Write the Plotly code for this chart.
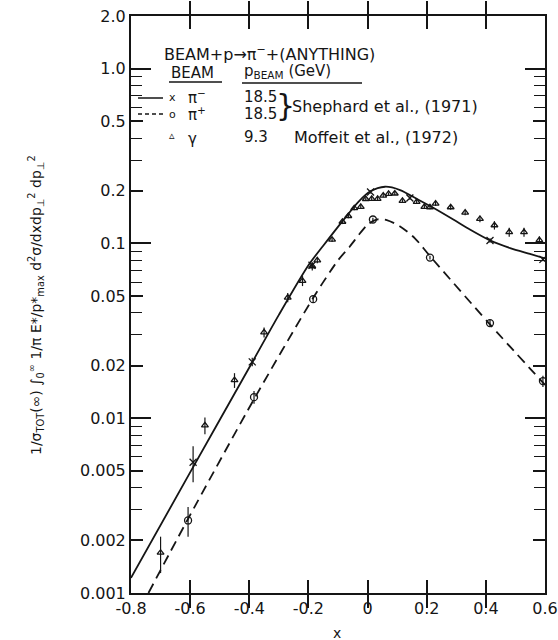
import plotly.graph_objects as go

# ---------------- data ----------------
# pi- beam (Shephard et al. 1971), crosses
pim_x = [-0.59, -0.39, -0.188, 0.01, 0.143, 0.414, 0.593]
pim_y = [0.0056, 0.021, 0.075, 0.197, 0.182, 0.104, 0.081]
pim_err = [0.0013, 0.0012, 0.002, 0.004, 0.004, 0.003, 0.002]

# pi+ beam (Shephard et al. 1971), open circles
pip_x = [-0.607, -0.384, -0.184, 0.018, 0.211, 0.414, 0.593]
pip_y = [0.0026, 0.0132, 0.048, 0.137, 0.083, 0.035, 0.0163]
pip_err = [0.0005, 0.0011, 0.002, 0.003, 0.002, 0.0015, 0.0012]

# gamma beam (Moffeit et al. 1972), triangles
gam_x = [-0.70, -0.55, -0.45, -0.35, -0.27, -0.22, -0.187, -0.17, -0.12, -0.085,
         -0.065, -0.045, -0.023, -0.006, 0.014, 0.034, 0.053, 0.071, 0.092, 0.118,
         0.166, 0.192, 0.211, 0.230, 0.281, 0.330, 0.380, 0.429, 0.479, 0.529, 0.581]
gam_y = [0.0017, 0.0091, 0.0165, 0.031, 0.049, 0.061, 0.074, 0.080, 0.105, 0.133,
         0.1435, 0.159, 0.162, 0.1795, 0.180, 0.180, 0.1875, 0.192, 0.193, 0.175,
         0.173, 0.162, 0.161, 0.169, 0.161, 0.150, 0.138, 0.127, 0.116, 0.116, 0.1045]
gam_err = [0.0004, 0.001, 0.0016, 0.002, 0.003, 0.004, 0.004, 0.003, 0.003, 0.004,
           0.004, 0.004, 0.004, 0.004, 0.004, 0.004, 0.004, 0.004, 0.004, 0.004,
           0.004, 0.004, 0.004, 0.005, 0.005, 0.005, 0.006, 0.007, 0.007, 0.007, 0.005]

# fitted curves
solid_x = [-0.8, -0.6, -0.4, -0.3, -0.2, -0.15, -0.082, -0.031, 0.008, 0.059, 0.11,
           0.166, 0.222, 0.29, 0.346, 0.414, 0.482, 0.549, 0.6]
solid_y = [0.00122, 0.0049, 0.0195, 0.039, 0.075, 0.097, 0.136, 0.173, 0.198, 0.211, 0.202,
           0.18, 0.16, 0.137, 0.120, 0.104, 0.094, 0.087, 0.082]
dash_x = [-0.741, -0.61, -0.38, -0.18, -0.1, -0.06, -0.026, 0.0, 0.03, 0.065, 0.11, 0.16,
          0.21, 0.41, 0.6]
dash_y = [0.001, 0.0026, 0.0132, 0.05, 0.08, 0.096, 0.114, 0.128, 0.137, 0.136, 0.125,
          0.107, 0.085, 0.035, 0.0155]

# axis ticks
x_ticks = [-0.8, -0.6, -0.4, -0.2, 0, 0.2, 0.4, 0.6]
x_ticktext = ["-0.8", "-0.6", "-0.4", "-0.2", "0", "0.2", "0.4", "0.6"]
y_ticks = [0.001, 0.002, 0.005, 0.01, 0.02, 0.05, 0.1, 0.2, 0.5, 1.0, 2.0]
y_ticktext = ["0.001", "0.002", "0.005", "0.01", "0.02", "0.05", "0.1", "0.2", "0.5", "1.0", "2.0"]
decades = [0.001, 0.01, 0.1, 1.0]
minor_mult = [2, 3, 4, 5, 6, 7, 8, 9]

INK = "#151515"
FONT = "DejaVu Sans"

fig = go.Figure()

fig.add_trace(go.Scatter(x=solid_x, y=solid_y, mode="lines", line=dict(color=INK, width=1.8,
                         shape="spline", smoothing=0.8), showlegend=False, hoverinfo="skip"))
fig.add_trace(go.Scatter(x=dash_x, y=dash_y, mode="lines",
                         line=dict(color=INK, width=1.8, dash="10px,6px", shape="spline",
                                   smoothing=0.8),
                         showlegend=False, hoverinfo="skip"))

err_style = dict(type="data", visible=True, color=INK, thickness=1.2, width=0)
fig.add_trace(go.Scatter(x=gam_x, y=gam_y, mode="markers", cliponaxis=False,
                         error_y=dict(array=gam_err, **err_style),
                         marker=dict(symbol="triangle-up-open", size=6, color=INK,
                                     line=dict(width=1.3, color=INK)), showlegend=False))
fig.add_trace(go.Scatter(x=pim_x, y=pim_y, mode="markers", cliponaxis=False,
                         error_y=dict(array=pim_err, **err_style),
                         marker=dict(symbol="x-thin-open", size=7, color=INK,
                                     line=dict(width=1.3, color=INK)), showlegend=False))
fig.add_trace(go.Scatter(x=pip_x, y=pip_y, mode="markers", cliponaxis=False,
                         error_y=dict(array=pip_err, **err_style),
                         marker=dict(symbol="circle-open", size=7, color=INK,
                                     line=dict(width=1.3, color=INK)), showlegend=False))

# invisible trace on overlay axis so its (long decade) ticks get drawn
fig.add_trace(go.Scatter(x=[None], y=[None], yaxis="y2", showlegend=False, hoverinfo="skip"))

minor_vals = [m * d for d in decades for m in minor_mult if m * d <= 2.0]

fig.update_layout(
    width=558, height=640,
    margin=dict(l=131, r=13, t=16, b=47, autoexpand=False),
    paper_bgcolor="white", plot_bgcolor="white",
    font=dict(family=FONT, size=16, color=INK),
    xaxis=dict(range=[-0.8, 0.6], tickvals=x_ticks, ticktext=x_ticktext, automargin=False,
               ticks="inside", ticklen=13, tickwidth=1.5, tickcolor=INK,
               showline=True, linewidth=2, linecolor=INK, mirror="allticks",
               showgrid=False, zeroline=False, tickfont=dict(size=16, family=FONT)),
    yaxis=dict(type="log", range=[-3, 0.30103], tickvals=y_ticks, ticktext=y_ticktext,
               automargin=False,
               ticks="inside", ticklen=12, tickwidth=1.5, tickcolor=INK,
               minor=dict(tickvals=minor_vals, ticks="inside", ticklen=11, tickwidth=1.3,
                          tickcolor=INK, showgrid=False),
               showline=True, linewidth=2, linecolor=INK, mirror="allticks",
               showgrid=False, zeroline=False, tickfont=dict(size=16, family=FONT)),
    yaxis2=dict(type="log", range=[-3, 0.30103], overlaying="y", side="left", automargin=False,
                tickvals=decades, ticks="inside", ticklen=20, tickwidth=1.5, tickcolor=INK,
                showticklabels=False, showline=False, mirror="allticks",
                showgrid=False, zeroline=False),
)

def px_x(p):
    return (p - 131) / 414.0

def px_y(p):
    return (593 - p) / 577.0

ann = []
def txt(text, x, y, xanchor="left", size=15, **kw):
    ann.append(dict(text=text, x=px_x(x), y=px_y(y), xref="paper", yref="paper",
                    xanchor=xanchor, yanchor="middle", showarrow=False,
                    font=dict(family=FONT, size=size, color=INK), **kw))

txt("BEAM+p\u2192\u03c0<sup>\u2212</sup>+(ANYTHING)", 162, 53, size=16)
txt("BEAM", 169, 73)
txt("p<sub>BEAM</sub> (GeV)", 242, 72)
txt("x", 172, 97, xanchor="center", size=11)
txt("\u03c0<sup>\u2212</sup>", 186, 97)
txt("o", 172, 114, xanchor="center", size=11)
txt("\u03c0<sup>+</sup>", 186, 114)
txt("\u25b5", 172, 135, xanchor="center", size=11)
txt("\u03b3", 186, 139)
txt("18.5", 242, 97)
txt("18.5", 242, 114)
txt("9.3", 242, 137)
txt("}", 274, 105, size=30)
txt("Shephard et al., (1971)", 290, 106, size=16)
txt("Moffeit et al., (1972)", 292, 137, size=16)
txt("x", 337, 633, xanchor="center", size=14)

ann.append(dict(
    text="1/\u03c3<sub>TOT</sub>(\u221e) \u222b<sub>0</sub><sup>\u221e</sup> 1/\u03c0 "
         "E*/p*<sub>max</sub> d<sup>2</sup>\u03c3/dxdp<sub>\u22a5</sub><sup>2</sup> "
         "dp<sub>\u22a5</sub><sup>2</sup>",
    x=px_x(36), y=px_y(305), xref="paper", yref="paper", xanchor="center", yanchor="middle",
    textangle=-90, showarrow=False, font=dict(family=FONT, size=14, color=INK)))

fig.update_layout(annotations=ann)

shapes = [
    dict(type="line", xref="paper", yref="paper", x0=px_x(138), x1=px_x(163),
         y0=px_y(98), y1=px_y(98), line=dict(color=INK, width=1.5)),
    dict(type="line", xref="paper", yref="paper", x0=px_x(138), x1=px_x(163),
         y0=px_y(114), y1=px_y(114), line=dict(color=INK, width=1.5, dash="4px,3px")),
    dict(type="line", xref="paper", yref="paper", x0=px_x(169), x1=px_x(222),
         y0=px_y(82), y1=px_y(82), line=dict(color=INK, width=1.5)),
    dict(type="line", xref="paper", yref="paper", x0=px_x(242), x1=px_x(362),
         y0=px_y(83), y1=px_y(83), line=dict(color=INK, width=1.5)),
]
fig.update_layout(shapes=shapes)

fig.write_html("out.html")
